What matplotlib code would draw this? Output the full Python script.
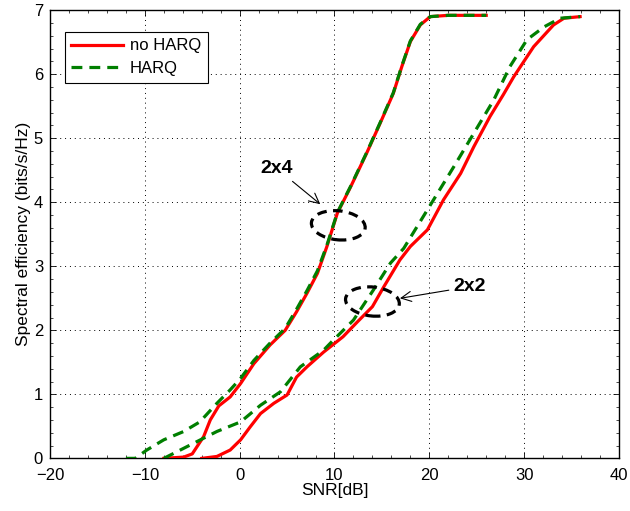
import numpy as np
import matplotlib
matplotlib.use('Agg')
import matplotlib.pyplot as plt
import matplotlib.transforms as transforms
from matplotlib.patches import Ellipse
from matplotlib.ticker import AutoMinorLocator

plt.rcParams['font.family'] = ['Liberation Sans', 'DejaVu Sans']

# ---- spectral efficiency curves (SNR in dB, bits/s/Hz) ----
snr_24_noharq = [-8.0, -5.9, -5.0, -3.8, -3.1, -2.2, -1.0, 0.1, 1.5, 3.2, 4.8, 6.0,
                 7.1, 8.2, 9.2, 10.3, 11.7, 13.4, 14.8, 16.2, 17.1, 18.0, 19.05, 20.1, 22.0, 26.0]
se_24_noharq = [0.0, 0.02, 0.07, 0.34, 0.60, 0.82, 0.96, 1.17, 1.48, 1.77, 2.0, 2.29,
                2.58, 2.89, 3.31, 3.83, 4.24, 4.77, 5.23, 5.70, 6.12, 6.51, 6.77, 6.90, 6.92, 6.92]

snr_24_harq = [-12.0, -11.0, -9.8, -8.0, -5.9, -4.2, -2.4, -1.0, 0.1, 1.5, 3.2, 4.8, 6.0,
               7.1, 8.2, 9.2, 10.3, 11.7, 13.4, 14.8, 16.2, 17.1, 18.0, 19.05, 20.1, 22.0, 26.0]
se_24_harq = [0.0, 0.0, 0.13, 0.29, 0.42, 0.57, 0.86, 1.07, 1.25, 1.53, 1.80, 2.03, 2.33,
              2.62, 2.93, 3.33, 3.84, 4.25, 4.78, 5.24, 5.71, 6.13, 6.52, 6.78, 6.90, 6.92, 6.92]

snr_22_noharq = [-4.0, -2.4, -1.0, 0.1, 1.1, 2.2, 3.6, 5.0, 6.0, 7.1, 8.85, 10.9, 12.4,
                 14.0, 15.2, 16.9, 18.0, 19.8, 21.5, 23.3, 24.7, 26.4, 27.8, 28.9, 31.0,
                 33.1, 34.2, 35.9]
se_22_noharq = [0.0, 0.03, 0.13, 0.29, 0.49, 0.70, 0.86, 0.99, 1.27, 1.43, 1.66, 1.90, 2.13,
                2.37, 2.68, 3.10, 3.31, 3.57, 4.04, 4.45, 4.87, 5.34, 5.68, 5.96, 6.43,
                6.77, 6.875, 6.90]

snr_22_harq = [-8.0, -5.6, -2.4, 0.1, 2.2, 4.3, 6.4, 8.85, 9.9, 12.0, 14.1, 15.9, 17.3,
               20.45, 22.6, 24.7, 26.8, 28.5, 30.3, 32.1, 33.8, 35.9]
se_22_harq = [0.0, 0.18, 0.42, 0.57, 0.83, 1.04, 1.43, 1.69, 1.85, 2.16, 2.63, 3.05, 3.28,
              4.04, 4.56, 5.08, 5.60, 6.12, 6.54, 6.74, 6.875, 6.90]

fig = plt.figure(figsize=(6.3, 5.11), dpi=100)
ax = fig.add_axes([0.0794, 0.103, 0.9031, 0.877])

dash = (0, (3.4, 2.2))
ax.plot(snr_24_noharq, se_24_noharq, color='#ff0000', lw=2.3, label='no HARQ', zorder=3)
ax.plot(snr_24_harq, se_24_harq, color='#007f00', lw=2.3, ls=dash, label='HARQ', zorder=4)
ax.plot(snr_22_noharq, se_22_noharq, color='#ff0000', lw=2.3, zorder=3)
ax.plot(snr_22_harq, se_22_harq, color='#007f00', lw=2.3, ls=dash, zorder=4)

# dashed ellipses around the 2x4 and 2x2 curves, sized in inches
for cx, cy, ang in [(10.4, 3.64, -6), (14.0, 2.45, -6)]:
    trans = fig.dpi_scale_trans + transforms.ScaledTranslation(cx, cy, ax.transData)
    ax.add_patch(Ellipse((0, 0), 0.54, 0.29, angle=ang, transform=trans, fill=False,
                         ec='black', lw=2.3, ls=(0, (3, 2)), zorder=5))

ax.annotate('2x4', xy=(8.5, 3.97), xytext=(3.9, 4.53), fontsize=14, fontweight='bold',
            ha='center', va='center',
            arrowprops=dict(arrowstyle='->', color='black', lw=0.8, shrinkA=2, shrinkB=0,
                            mutation_scale=18))
ax.annotate('2x2', xy=(16.9, 2.5), xytext=(24.2, 2.68), fontsize=14, fontweight='bold',
            ha='center', va='center',
            arrowprops=dict(arrowstyle='->', color='black', lw=0.8, shrinkA=1, shrinkB=0,
                            mutation_scale=18))

ax.set_xlim(-20, 40)
ax.set_ylim(0, 7)
ax.set_xticks(np.arange(-20, 41, 10))
ax.set_yticks(np.arange(0, 8, 1))
ax.set_xticklabels(['\u221220', '\u221210', '0', '10', '20', '30', '40'])
ax.xaxis.set_minor_locator(AutoMinorLocator(5))
ax.yaxis.set_minor_locator(AutoMinorLocator(5))
ax.tick_params(which='both', direction='in', top=True, right=True, labelsize=12, color='black')
ax.tick_params(which='major', length=4, width=0.6)
ax.tick_params(which='minor', length=2, width=0.5)
ax.tick_params(axis='x', which='major', pad=7)
ax.tick_params(axis='y', which='major', pad=5)
ax.grid(True, which='major', ls=(0, (1, 4)), color='black', lw=0.7)
for s in ax.spines.values():
    s.set_linewidth(1.0)

ax.set_xlabel('SNR[dB]', fontsize=12.5, labelpad=0)
ax.set_ylabel('Spectral efficiency (bits/s/Hz)', fontsize=12.5, labelpad=2)

leg = ax.legend(loc='upper left', bbox_to_anchor=(0.026, 0.952), borderaxespad=0,
                fontsize=12, fancybox=False, edgecolor='black', framealpha=1,
                handlelength=3.1, handletextpad=0.4, borderpad=0.4, labelspacing=0.45)
leg.get_frame().set_linewidth(0.8)

fig.savefig('out.png', dpi=100)
